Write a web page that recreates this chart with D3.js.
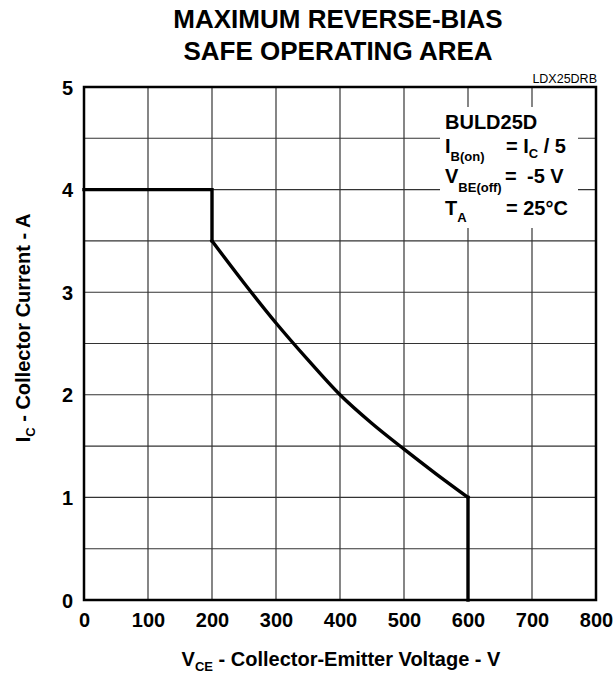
<!DOCTYPE html>
<html><head><meta charset="utf-8">
<script src="https://cdn.jsdelivr.net/npm/d3@7"></script>
<style>
body{margin:0;background:#fff;}
text{font-family:"Liberation Sans",Arial,sans-serif;font-weight:bold;fill:#000;}
</style></head>
<body><svg id="c" width="615" height="673"></svg>
<script>
const vce = [0, 200, 200, 250, 300, 350, 400, 450, 500, 550, 600, 600];
const ic  = [4, 4, 3.5, 3.09, 2.70, 2.34, 2.0, 1.72, 1.47, 1.23, 1.0, 0];
const xTicks = [0, 100, 200, 300, 400, 500, 600, 700, 800];
const yTicks = [0, 1, 2, 3, 4, 5];
const yGrid = [0.5, 1, 1.5, 2, 2.5, 3, 3.5, 4, 4.5];
const titleLines = ["MAXIMUM REVERSE-BIAS", "SAFE OPERATING AREA"];

const svg = d3.select("#c");
const L = 84, R = 596, T = 87, B = 600;
const x = d3.scaleLinear().domain([0, 800]).range([L, R]);
const y = d3.scaleLinear().domain([0, 5]).range([B, T]);

// grid
svg.append("g").selectAll("line").data(xTicks.slice(1, -1)).join("line")
  .attr("x1", d => x(d)).attr("x2", d => x(d)).attr("y1", T).attr("y2", B)
  .attr("stroke", "#222").attr("stroke-width", 1.1);
svg.append("g").selectAll("line").data(yGrid).join("line")
  .attr("y1", d => y(d)).attr("y2", d => y(d)).attr("x1", L).attr("x2", R)
  .attr("stroke", "#333").attr("stroke-width", 1.1);

// legend background
svg.append("rect").attr("x", 440).attr("y", 107).attr("width", 138).attr("height", 121).attr("fill", "#fff");

// curve: straight steps at the ends, smooth boundary in the middle
const pts = vce.map((v, i) => [v, ic[i]]);
const n = pts.length;
const lin = d3.line().x(d => x(d[0])).y(d => y(d[1]));
const smooth = d3.line().x(d => x(d[0])).y(d => y(d[1])).curve(d3.curveMonotoneX);
const g = svg.append("g").attr("fill", "none").attr("stroke", "#000").attr("stroke-width", 3.4)
  .attr("stroke-linejoin", "miter").attr("stroke-linecap", "square");
g.append("path").attr("d", lin(pts.slice(0, 3)));
g.append("path").attr("d", smooth(pts.slice(2, n - 1)));
g.append("path").attr("d", lin(pts.slice(n - 2)));

// border
svg.append("rect").attr("x", L).attr("y", T).attr("width", R - L).attr("height", B - T)
  .attr("fill", "none").attr("stroke", "#000").attr("stroke-width", 2.5);

// axes labels
const xAxis = d3.axisBottom(x).tickValues(xTicks).tickSize(0).tickPadding(0).tickFormat(d3.format("d"));
const gx = svg.append("g").attr("transform", `translate(0,${B})`).call(xAxis);
gx.select(".domain").remove();
gx.selectAll("text").attr("font-size", 20).attr("dy", null).attr("y", 27)
  .style("font-family", "Liberation Sans, Arial, sans-serif").style("font-weight", "bold").attr("fill", "#000");

const yAxis = d3.axisLeft(y).tickValues(yTicks).tickSize(0).tickPadding(11).tickFormat(d3.format("d"));
const gy = svg.append("g").attr("transform", `translate(${L},0)`).call(yAxis);
gy.select(".domain").remove();
gy.selectAll("text").attr("font-size", 20).attr("dy", "0.35em")
  .style("font-family", "Liberation Sans, Arial, sans-serif").style("font-weight", "bold").attr("fill", "#000");

// title
svg.append("text").attr("x", 338).attr("y", 28).attr("text-anchor", "middle").attr("font-size", 26).text(titleLines[0]);
svg.append("text").attr("x", 338).attr("y", 60).attr("text-anchor", "middle").attr("font-size", 26).text(titleLines[1]);

svg.append("text").attr("x", 597).attr("y", 83).attr("text-anchor", "end").attr("font-size", 12.5)
  .style("font-weight", "normal").text("LDX25DRB");

// x label
const xl = svg.append("text").attr("x", 341).attr("y", 666).attr("text-anchor", "middle").attr("font-size", 20);
xl.append("tspan").text("V");
xl.append("tspan").attr("font-size", 13).attr("dy", 5).text("CE");
xl.append("tspan").attr("dy", -5).text(" - Collector-Emitter Voltage - V");

// y label
const yl = svg.append("text").attr("transform", "translate(30,328) rotate(-90)").attr("text-anchor", "middle").attr("font-size", 20);
yl.append("tspan").text("I");
yl.append("tspan").attr("font-size", 13).attr("dy", 5).text("C");
yl.append("tspan").attr("dy", -5).text(" - Collector Current - A");

// legend
const lg = svg.append("g");
lg.append("text").attr("x", 445).attr("y", 129).attr("font-size", 20).text("BULD25D");
const l2 = lg.append("text").attr("x", 445).attr("y", 153).attr("font-size", 20);
l2.append("tspan").text("I");
l2.append("tspan").attr("font-size", 13).attr("dy", 8).text("B(on)");
const l2b = lg.append("text").attr("x", 506).attr("y", 153).attr("font-size", 20);
l2b.append("tspan").text("= I");
l2b.append("tspan").attr("font-size", 13).attr("dy", 5).text("C");
l2b.append("tspan").attr("dy", -5).text(" / 5");
const l3 = lg.append("text").attr("x", 445).attr("y", 183).attr("font-size", 20);
l3.append("tspan").text("V");
l3.append("tspan").attr("font-size", 13).attr("dy", 9).text("BE(off)");
lg.append("text").attr("x", 505).attr("y", 183).attr("font-size", 20).text("=");
lg.append("text").attr("x", 527).attr("y", 183).attr("font-size", 20).text("-5 V");
const l4 = lg.append("text").attr("x", 445).attr("y", 215).attr("font-size", 20);
l4.append("tspan").text("T");
l4.append("tspan").attr("font-size", 13).attr("dy", 7).text("A");
lg.append("text").attr("x", 506).attr("y", 215).attr("font-size", 20).text("= 25°C");
</script></body></html>
